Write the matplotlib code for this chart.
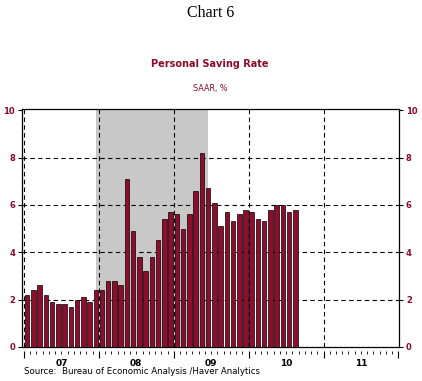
import matplotlib
matplotlib.use("Agg")
import matplotlib.pyplot as plt
import numpy as np

# Monthly personal saving rate, Jan 2007 - Aug 2010
values = [2.2, 2.4, 2.6, 2.2, 1.9, 1.8, 1.8, 1.7, 2.0, 2.1, 1.9, 2.4,
          2.4, 2.8, 2.8, 2.6, 7.1, 4.9, 3.8, 3.2, 3.8, 4.5, 5.4, 5.7,
          5.6, 5.0, 5.6, 6.6, 8.2, 6.7, 6.1, 5.1, 5.7, 5.3, 5.6, 5.8,
          5.7, 5.4, 5.3, 5.8, 6.0, 6.0, 5.7, 5.8]
year_labels = ["07", "08", "09", "10", "11"]
y_ticks = [0, 2, 4, 6, 8, 10]
recession = (11.5, 29.5)  # Dec 2007 - Jun 2009 (month index centers)

dark_red = "#900C2C"
label_red = "#8B0A2A"

fig = plt.figure(figsize=(4.22, 3.81), dpi=100)
ax = fig.add_axes([22/422, 1-347/381, (399-22)/422, (347-109)/381])

x = np.arange(len(values)) + 0.5
ax.axvspan(recession[0], recession[1], color="#C8C8C8", zorder=0, lw=0)
ax.bar(x, values, width=0.72, color=dark_red, edgecolor="black", linewidth=0.5, zorder=3)

ax.set_xlim(-0.32, 60.1)
ax.set_ylim(0, 10.05)

# grid
for yv in [2, 4, 6, 8]:
    ax.axhline(yv, color="black", lw=0.8, ls=(0, (4, 3)), zorder=1)
for xv in [0, 12, 24, 36, 48]:
    ax.axvline(xv, color="black", lw=0.8, ls=(0, (4, 3)), zorder=1)

for s in ax.spines.values():
    s.set_linewidth(0.9)

ax.set_xticks([])
ax.set_yticks(y_ticks)
ax.tick_params(axis="y", which="both", direction="out", length=3, width=0.8,
               labelsize=6, labelcolor=label_red, left=True, right=True,
               labelleft=True, labelright=True, pad=2)
for lab in ax.get_yticklabels():
    lab.set_fontweight("bold")

# separate time axis below
sec = ax.secondary_xaxis(-0.017)
sec.spines["bottom"].set_visible(False)
sec.set_xticks(np.arange(0, 61, 12))
sec.set_xticks(np.arange(0, 61, 1), minor=True)
sec.set_xticklabels([])
sec.tick_params(axis="x", which="major", length=5, width=0.8, direction="out")
sec.tick_params(axis="x", which="minor", length=2, width=0.6, direction="out")
for i, lab in enumerate(year_labels):
    ax.text(12 * i + 6, -0.7, lab, ha="center", va="center", fontsize=6.5,
            fontweight="bold", transform=ax.transData, clip_on=False)

fig.text(211/422, 1-13/381, "Chart 6", ha="center", va="center",
         fontsize=11.5, family="Liberation Serif")
fig.text(210/422, 1-64/381, "Personal Saving Rate", ha="center", va="center",
         fontsize=7, fontweight="bold", color=label_red)
fig.text(210/422, 1-88/381, "SAAR, %", ha="center", va="center",
         fontsize=5.8, color=label_red)
fig.text(24/422, 1-372/381, "Source:  Bureau of Economic Analysis /Haver Analytics",
         ha="left", va="center", fontsize=6.2)

fig.savefig("out.png", dpi=100)
